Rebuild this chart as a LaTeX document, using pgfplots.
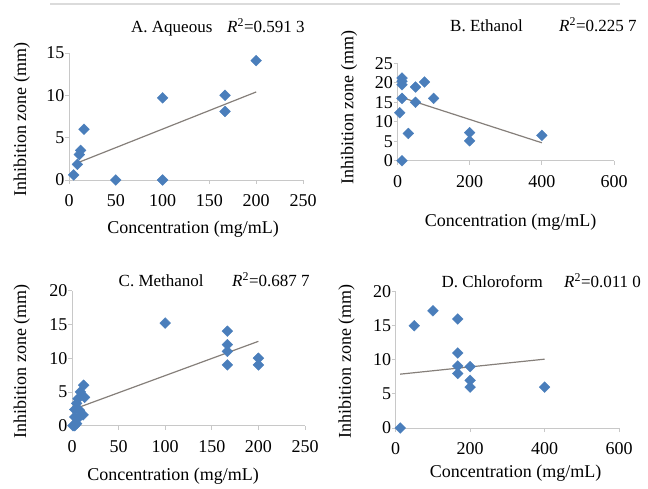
\documentclass[border=0pt]{standalone}
\usepackage{fontspec}
\setmainfont{Liberation Serif}
\usepackage{pgfplots}
\pgfplotsset{compat=1.18}
\definecolor{ptblue}{HTML}{4A7EBB}
\definecolor{axgray}{HTML}{C8C8C8}
\definecolor{trend}{HTML}{857F7A}
\newcommand{\lab}{\fontsize{18}{18}\selectfont}
\newcommand{\ttl}{\fontsize{17}{17}\selectfont}
\pgfplotsset{
  panel/.style={
    scale only axis, anchor=south west, clip=false,
    axis x line*=bottom, axis y line*=left,
    axis line style={draw=axgray, line width=0.9pt, -},
    tick style={draw=axgray, line width=0.9pt},
    major tick length=4pt, tick align=outside,
    xmin=0, ymin=0,
    /pgf/number format/assume math mode=true,
    ticklabel style={font=\lab},
    xticklabel style={yshift=-7pt},
    yticklabel style={xshift=3pt},
  },
  pts/.style={only marks, mark=square*, mark size=3.8pt,
    mark options={rotate=45, fill=ptblue, draw=ptblue}},
  fit/.style={draw=trend, line width=1.2pt, no marks},
}

\begin{document}
\begin{tikzpicture}
\useasboundingbox (0,0) rectangle (648pt,488pt);
\draw[black!14, line width=2pt] (50pt,484pt) -- (620pt,484pt);

% ---------- A. Aqueous ----------
\begin{axis}[panel, at={(69pt,308pt)}, width=234pt, height=127pt,
  xmax=250, ymax=15, xtick={0,50,...,250}, ytick={0,5,10,15}]
\addplot[fit] coordinates {(5,1.85)(200,10.4)};
\addplot[pts] coordinates {
  (5,0.6)(9,1.85)(11,3.0)(12.5,3.5)(16,6.0)(50,0)(100,9.7)(100,0)
  (166.7,10)(166.7,8.1)(200,14.1)};
\end{axis}

% ---------- B. Ethanol ----------
\begin{axis}[panel, at={(397.5pt,327.3pt)}, width=216.5pt, height=97.4pt,
  xmax=600, ymax=25, xtick={0,200,400,600}, ytick={0,5,...,25}]
\addplot[fit] coordinates {(6,16.4)(400,4.6)};
\addplot[pts] coordinates {
  (12.5,21.2)(12.5,20.4)(12.5,19.5)(12.5,16)(6.25,12.3)(12.5,0)
  (30,7)(50,18.9)(50,15)(75,20.2)(100,16)(200,7.2)(200,5.1)(400,6.5)};
\end{axis}

% ---------- C. Methanol ----------
\begin{axis}[panel, at={(72pt,62.3pt)}, width=233pt, height=135pt,
  xmax=250, ymax=20, xtick={0,50,...,250}, ytick={0,5,...,20}]
\addplot[fit] coordinates {(0,2.35)(200,12.5)};
\addplot[pts] coordinates {
  (1,0)(3,0)(5,0.3)(3,1.3)(6.5,1.1)(12,1.6)(3,2.4)(8,2.3)(5,3.3)
  (6.5,4)(13.5,4.2)(9,5)(12.5,6)
  (100,15.2)(166.7,14)(166.7,12)(166.7,11)(166.7,9)(200,10)(200,9)};
\end{axis}

% ---------- D. Chloroform ----------
\begin{axis}[panel, at={(395.7pt,60pt)}, width=223.3pt, height=136.3pt,
  xmax=600, ymax=20, xtick={0,200,400,600}, ytick={0,5,...,20}]
\addplot[fit] coordinates {(12,7.9)(400,10.1)};
\addplot[pts] coordinates {
  (12,0)(50,15)(100,17.2)(166.7,16)(166.7,11)(166.7,9.1)(166.7,8)
  (200,9)(200,7)(200,6)(400,6)};
\end{axis}

% titles
\node[anchor=base west, inner sep=0, font=\ttl] at (131pt,455.7pt) {A. Aqueous};
\node[anchor=base west, inner sep=0, font=\ttl] at (227pt,455.7pt) {\textit{R}\textsuperscript{2}=0.591 3};
\node[anchor=base west, inner sep=0, font=\ttl] at (450pt,456.3pt) {B. Ethanol};
\node[anchor=base west, inner sep=0, font=\ttl] at (559pt,456.3pt) {\textit{R}\textsuperscript{2}=0.225 7};
\node[anchor=base west, inner sep=0, font=\ttl] at (118.5pt,201.3pt) {C. Methanol};
\node[anchor=base west, inner sep=0, font=\ttl] at (232pt,201.3pt) {\textit{R}\textsuperscript{2}=0.687 7};
\node[anchor=base west, inner sep=0, font=\ttl] at (441.5pt,200.7pt) {D. Chloroform};
\node[anchor=base west, inner sep=0, font=\ttl] at (564pt,200.7pt) {\textit{R}\textsuperscript{2}=0.011 0};

% axis titles
\node[rotate=90, font=\lab] at (21.7pt,368pt) {Inhibition zone (mm)};
\node[rotate=90, font=\lab] at (349pt,380pt) {Inhibition zone (mm)};
\node[rotate=90, font=\lab] at (21.7pt,126.5pt) {Inhibition zone (mm)};
\node[rotate=90, font=\lab] at (346.5pt,126.5pt) {Inhibition zone (mm)};
\node[anchor=base, inner sep=0, font=\lab] at (193pt,254.7pt) {Concentration (mg/mL)};
\node[anchor=base, inner sep=0, font=\lab] at (510.7pt,261.3pt) {Concentration (mg/mL)};
\node[anchor=base, inner sep=0, font=\lab] at (173pt,7.3pt) {Concentration (mg/mL)};
\node[anchor=base, inner sep=0, font=\lab] at (515.7pt,10.7pt) {Concentration (mg/mL)};
\end{tikzpicture}
\end{document}
